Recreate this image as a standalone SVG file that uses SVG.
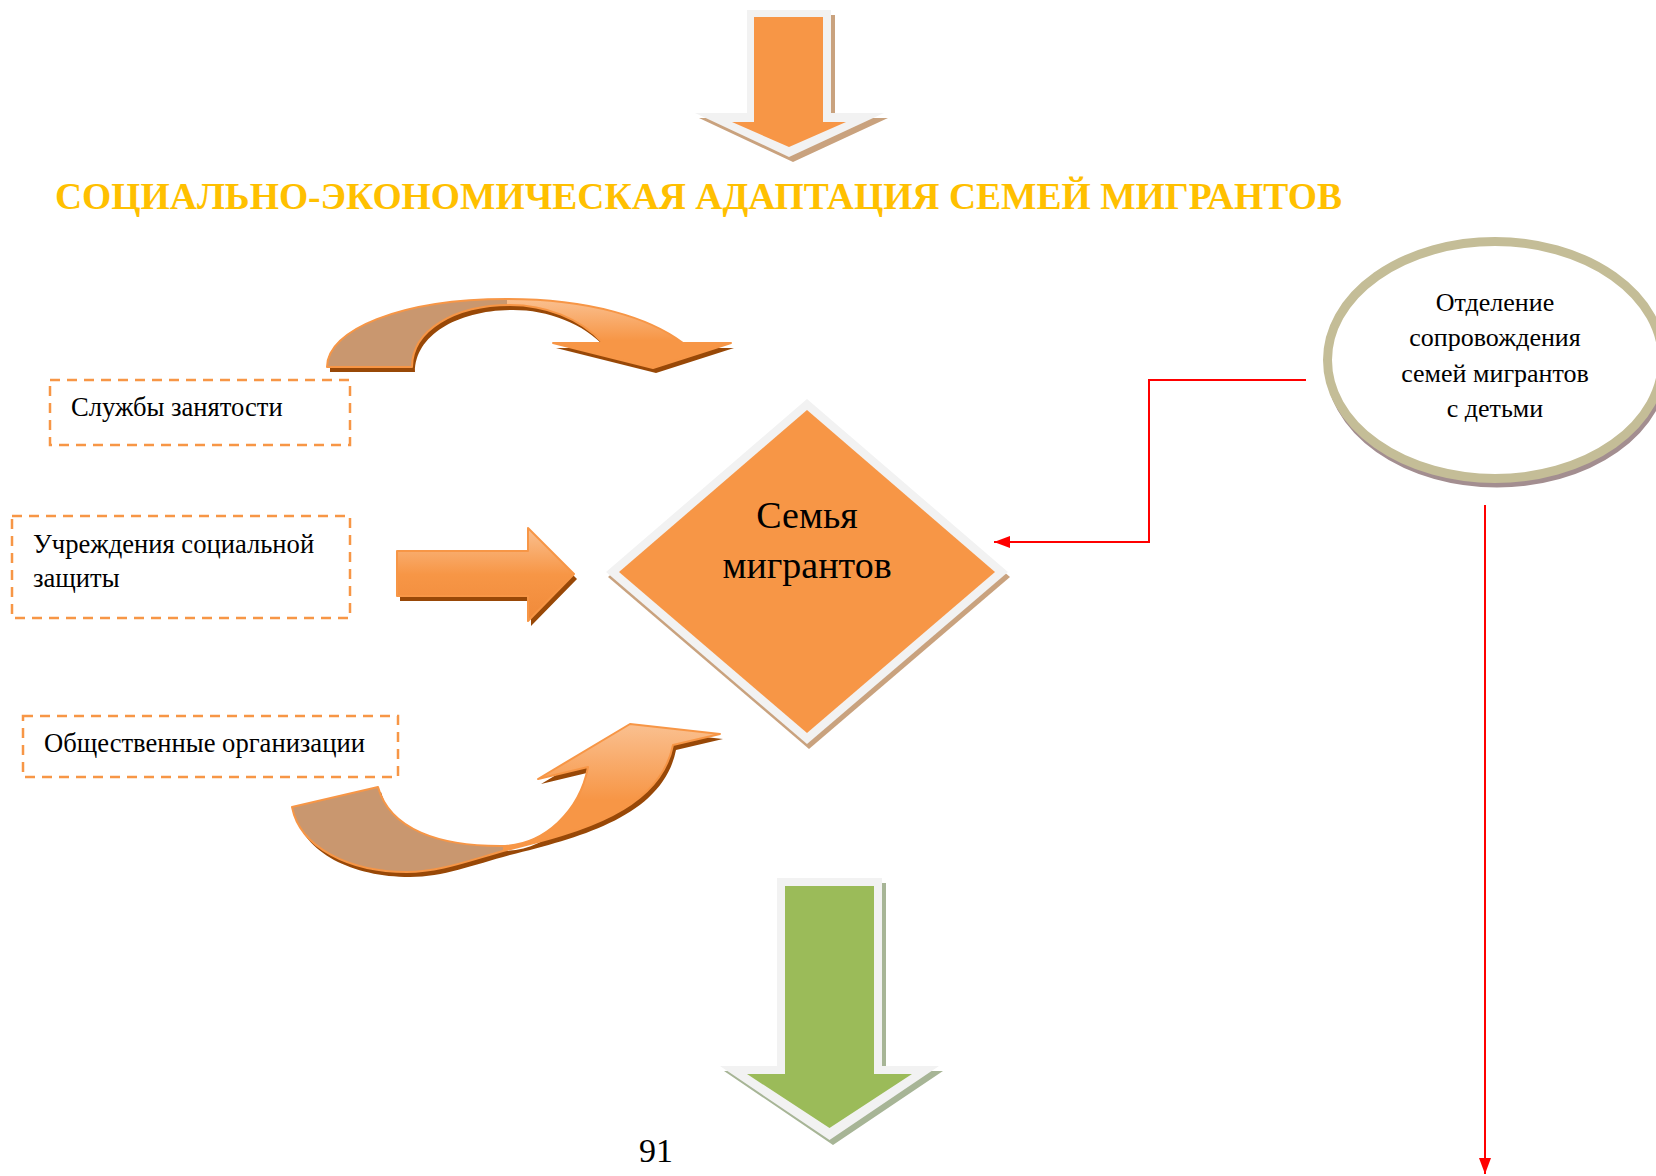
<svg xmlns="http://www.w3.org/2000/svg" width="1656" height="1176" viewBox="0 0 1656 1176">
<style>
.t{font-family:"Liberation Serif","Times New Roman",serif;fill:#000}
.box{fill:none;stroke:#F79646;stroke-width:2.5;stroke-dasharray:10 7}
.red{fill:none;stroke:#FF0000;stroke-width:2}
.outl{fill:none;stroke:#F79646;stroke-width:2;stroke-linejoin:round}
.shd{fill:#984807}
</style>
<defs>
<linearGradient id="gV" x1="0" y1="0" x2="0" y2="1">
<stop offset="0" stop-color="#FAC090"/>
<stop offset="0.5" stop-color="#F79646"/>
<stop offset="1" stop-color="#F08A3A"/>
</linearGradient>
<linearGradient id="gTop" gradientUnits="userSpaceOnUse" x1="0" y1="299" x2="0" y2="368">
<stop offset="0" stop-color="#FAC090"/>
<stop offset="0.6" stop-color="#F79646"/>
<stop offset="1" stop-color="#F79646"/>
</linearGradient>
<linearGradient id="gBot" gradientUnits="userSpaceOnUse" x1="0" y1="724" x2="0" y2="850">
<stop offset="0" stop-color="#FAC090"/>
<stop offset="0.6" stop-color="#F79646"/>
<stop offset="1" stop-color="#F79646"/>
</linearGradient>
<clipPath id="cl1"><rect x="0" y="0" width="507" height="1176"/></clipPath>
<clipPath id="cl2"><rect x="0" y="0" width="503" height="1176"/></clipPath>
<marker id="ah" markerWidth="8" markerHeight="6" refX="8" refY="3" orient="auto" markerUnits="strokeWidth">
<path d="M0,0 L8,3 L0,6 Z" fill="#FF0000"/>
</marker>
<path id="p1" d="M327,367 C327,330 400,299 507,299 C590,299 650,318 683,343 L731,343 L653,368 L553,343 L603,343 C580,318 545,305 510,305 C455,305 412,330 412,367 Z"/>
<path id="p2" d="M292,807 L378,787 C390,830 440,846 500,846 C545,846 580,810 588,767 L538,779 L630,724 L720,734 L673,745 C660,810 580,832 507,850 C470,860 440,872 407,872 C350,872 300,848 292,807 Z"/>
</defs>
<rect width="1656" height="1176" fill="#FFFFFF"/>

<g id="top-arrow">
<polygon points="751,15 835,15 835,118 888,118 793,162 699,118 751,118" fill="#C9A27E"/>
<polygon points="747,10 831,10 831,113 884,113 789,157 695,113 747,113" fill="#F2F2F2"/>
<polygon points="754,17 823,17 823,122 846,122 789,147 732,122 754,122" fill="#F79646"/>
</g>

<g id="title">
<text x="55" y="209" font-family="Liberation Serif, Times New Roman, serif" font-weight="bold" font-size="38" fill="#FFC000" textLength="1287" lengthAdjust="spacingAndGlyphs">СОЦИАЛЬНО-ЭКОНОМИЧЕСКАЯ АДАПТАЦИЯ СЕМЕЙ МИГРАНТОВ</text>
</g>

<g id="curved-arrow-top">
<use href="#p1" class="shd" transform="translate(3,5)"/>
<use href="#p1" fill="url(#gTop)"/>
<use href="#p1" fill="#C9976F" clip-path="url(#cl1)"/>
<use href="#p1" class="outl"/>
</g>

<g id="box-employment">
<rect class="box" x="50" y="380" width="300" height="65"/>
<text class="t" x="71" y="416" font-size="26.6">Службы занятости</text>
</g>

<g id="box-social">
<rect class="box" x="12" y="516" width="338" height="102"/>
<text class="t" x="33" y="553" font-size="26.6">Учреждения социальной</text>
<text class="t" x="33" y="587" font-size="26.6">защиты</text>
</g>

<g id="straight-arrow">
<polygon points="400,556 531,556 531,533 577,579 531,626 531,601 400,601" class="shd"/>
<polygon points="397,551 528,551 528,528 574,574 528,621 528,596 397,596" fill="url(#gV)" stroke="#F79646" stroke-width="2" stroke-linejoin="round"/>
</g>

<g id="box-public">
<rect class="box" x="23" y="716" width="375" height="61"/>
<text class="t" x="44" y="752" font-size="26.6">Общественные организации</text>
</g>

<g id="curved-arrow-bottom">
<use href="#p2" class="shd" transform="translate(3,5)"/>
<use href="#p2" fill="url(#gBot)"/>
<use href="#p2" fill="#C9976F" clip-path="url(#cl2)"/>
<use href="#p2" class="outl"/>
</g>

<g id="diamond">
<polygon points="809,404 1010,577 809,749 608,577" fill="#C9A27E"/>
<polygon points="807,399 1008,572 807,744 606,572" fill="#F2F2F2"/>
<polygon points="807,410 995,572 807,733 619,572" fill="#F79646"/>
<text class="t" x="807" y="528" font-size="38" text-anchor="middle">Семья</text>
<text class="t" x="807" y="578" font-size="38" text-anchor="middle">мигрантов</text>
</g>

<g id="ellipse-node">
<ellipse cx="1497" cy="365" rx="167.5" ry="118.5" fill="none" stroke="#A38E90" stroke-width="8"/>
<ellipse cx="1495" cy="360" rx="167.5" ry="118.5" fill="#FFFFFF" stroke="#C4BD97" stroke-width="9"/>
<text class="t" x="1495" y="311" font-size="26" text-anchor="middle">Отделение</text>
<text class="t" x="1495" y="346" font-size="26" text-anchor="middle">сопровождения</text>
<text class="t" x="1495" y="382" font-size="26" text-anchor="middle">семей мигрантов</text>
<text class="t" x="1495" y="417" font-size="26" text-anchor="middle">с детьми</text>
</g>

<g id="connectors">
<polyline class="red" points="1306,380 1149,380 1149,542 994,542" marker-end="url(#ah)"/>
<line class="red" x1="1485" y1="505" x2="1485" y2="1174" marker-end="url(#ah)"/>
</g>

<g id="green-arrow">
<polygon points="781,883 886,883 886,1071 943,1071 833,1145 724,1071 781,1071" fill="#A7B596"/>
<polygon points="777,878 882,878 882,1066 939,1066 829.5,1140 720,1066 777,1066" fill="#F2F2F2"/>
<polygon points="785,886 874,886 874,1074 912,1074 829.5,1128 747,1074 785,1074" fill="#9BBB59"/>
</g>

<g id="page-number">
<text class="t" x="656" y="1162" font-size="34" text-anchor="middle">91</text>
</g>
</svg>
